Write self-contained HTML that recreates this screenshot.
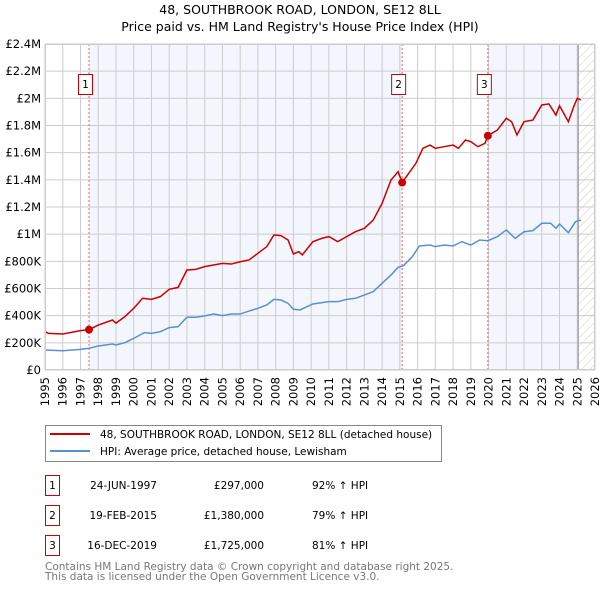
<!DOCTYPE html>
<html><head><meta charset="utf-8"><style>
body{margin:0;background:#fff;font-family:"Liberation Sans","DejaVu Sans",sans-serif;}
svg text{font-family:"DejaVu Sans","Liberation Sans",sans-serif;}
</style></head><body>
<svg id="c" width="600" height="590" xmlns="http://www.w3.org/2000/svg">
<defs><pattern id="hatch" width="6" height="6" patternUnits="userSpaceOnUse" patternTransform="rotate(45)"><line x1="0" y1="0" x2="0" y2="6" stroke="#ccc" stroke-width="1"/></pattern></defs>
<text x="300" y="14" text-anchor="middle" font-size="12.5">48, SOUTHBROOK ROAD, LONDON, SE12 8LL</text>
<text x="300" y="31" text-anchor="middle" font-size="12.5">Price paid vs. HM Land Registry's House Price Index (HPI)</text>
<g id="plot"></g>
<g>
<rect x="45.5" y="425.5" width="396" height="36" fill="#fff" stroke="#888"/>
<line x1="50" y1="434" x2="90" y2="434" stroke="#cc0000" stroke-width="2"/>
<text x="100" y="438" font-size="10.5">48, SOUTHBROOK ROAD, LONDON, SE12 8LL (detached house)</text>
<line x1="50" y1="451" x2="90" y2="451" stroke="#5b8fd4" stroke-width="2"/>
<text x="100" y="455" font-size="10.5">HPI: Average price, detached house, Lewisham</text>
</g>
<g font-size="10.5">
<rect x="45.5" y="475.5" width="14" height="20" fill="#fff" stroke="#cc0000"/><text x="52.5" y="489" text-anchor="middle">1</text>
<text x="157" y="489" text-anchor="end">24-JUN-1997</text><text x="264" y="489" text-anchor="end">£297,000</text><text x="312" y="489">92% ↑ HPI</text>
<rect x="45.5" y="505.5" width="14" height="20" fill="#fff" stroke="#cc0000"/><text x="52.5" y="519" text-anchor="middle">2</text>
<text x="157" y="519" text-anchor="end">19-FEB-2015</text><text x="264" y="519" text-anchor="end">£1,380,000</text><text x="312" y="519">79% ↑ HPI</text>
<rect x="45.5" y="535.5" width="14" height="20" fill="#fff" stroke="#cc0000"/><text x="52.5" y="549" text-anchor="middle">3</text>
<text x="157" y="549" text-anchor="end">16-DEC-2019</text><text x="264" y="549" text-anchor="end">£1,725,000</text><text x="312" y="549">81% ↑ HPI</text>
</g>
<text x="45" y="570" font-size="10.5" fill="#777">Contains HM Land Registry data © Crown copyright and database right 2025.</text>
<text x="45" y="580" font-size="10.5" fill="#777">This data is licensed under the Open Government Licence v3.0.</text>
</svg>
<script>
const redYears=[1995,1995.2,1996,1997,1997.48,1998,1998.8,1999,1999.5,2000,2000.5,2001,2001.5,2002,2002.5,2003,2003.5,2004,2004.5,2005,2005.5,2006,2006.5,2007,2007.5,2007.9,2008.3,2008.7,2009,2009.3,2009.5,2010.1,2010.6,2011,2011.5,2012,2012.5,2013,2013.5,2014,2014.5,2014.9,2015.13,2015.5,2015.9,2016.3,2016.7,2017,2017.5,2018,2018.3,2018.7,2019,2019.4,2019.8,2019.96,2020.5,2021,2021.3,2021.6,2022,2022.5,2023,2023.4,2023.8,2024,2024.5,2024.8,2025,2025.2];
const redValues=[282,270,265,290,297,331,368,345,393,454,528,520,540,594,608,736,741,761,773,785,780,797,810,859,908,994,989,957,854,871,847,945,969,982,945,982,1018,1043,1104,1227,1399,1460,1380,1448,1521,1632,1656,1632,1644,1656,1632,1693,1681,1644,1669,1725,1767,1853,1828,1730,1828,1840,1951,1959,1877,1945,1828,1939,2000,1988];
const hpiYears=[1995,1996,1997,1997.5,1998,1998.8,1999,1999.5,2000,2000.6,2001,2001.5,2002,2002.5,2003,2003.5,2004,2004.5,2005,2005.5,2006,2006.5,2007,2007.5,2007.9,2008.3,2008.7,2009,2009.37,2010.1,2011,2011.5,2012,2012.5,2013,2013.5,2014,2014.5,2014.9,2015.2,2015.7,2016.1,2016.7,2017,2017.5,2018,2018.5,2019,2019.5,2019.96,2020.5,2021,2021.5,2022,2022.5,2023,2023.5,2023.8,2024,2024.5,2024.9,2025.2];
const hpiValues=[147,142,152,160,177,191,184,201,233,275,270,282,312,319,388,388,398,412,400,412,412,434,454,479,520,515,491,447,442,486,503,503,520,528,552,577,638,699,756,768,834,913,920,908,920,913,945,920,957,952,982,1031,969,1018,1026,1080,1080,1043,1075,1011,1092,1104];
const saleYears=[1997.48,2015.13,2019.96];
const saleValues=[297,1380,1725];
const saleLabels=["1","2","3"];
const yTicks=[0,200,400,600,800,1000,1200,1400,1600,1800,2000,2200,2400];
const yTickLabels=["£0","£200K","£400K","£600K","£800K","£1M","£1.2M","£1.4M","£1.6M","£1.8M","£2M","£2.2M","£2.4M"];
const xMin=1995,xMax=2026,X0=45,X1=595,Y0=370,Y1=44;
const sx=v=>X0+(v-xMin)/(xMax-xMin)*(X1-X0);
const sy=v=>Y0-v/2400*(Y0-Y1);
const NS="http://www.w3.org/2000/svg",g=document.getElementById('plot');
function mk(t,a){const e=document.createElementNS(NS,t);for(const k in a)e.setAttribute(k,a[k]);g.appendChild(e);return e;}
let e;
e=mk('rect',{x:sx(saleYears[0]),y:Y1,width:sx(saleYears[1])-sx(saleYears[0]),height:Y0-Y1,fill:'#f3f6fd'});


e=mk('rect',{x:sx(saleYears[2]),y:Y1,width:sx(2025.05)-sx(saleYears[2]),height:Y0-Y1,fill:'#f3f6fd'});


e=mk('rect',{x:sx(2025.05),y:Y1,width:X1-sx(2025.05),height:Y0-Y1,fill:'url(#hatch)'});


for(let y=xMin;y<=xMax;y++){
 e=mk('line',{x1:sx(y),x2:sx(y),y1:Y1,y2:Y0,stroke:'#ccc','stroke-width':1});
 
 
 e=mk('text',{transform:`translate(${sx(y)+4},377) rotate(-90)`,'text-anchor':'end','font-size':11.5});
 e.textContent=y;
 
 
}
yTicks.forEach((v,i)=>{
 e=mk('line',{x1:X0,x2:X1,y1:sy(v),y2:sy(v),stroke:'#ccc','stroke-width':1});
 
 
 e=mk('text',{x:41,y:sy(v)+4,'text-anchor':'end','font-size':11.5});
 e.textContent=yTickLabels[i];
 
 
});
e=mk('line',{x1:sx(2025.05),x2:sx(2025.05),y1:Y1,y2:Y0,stroke:'#888','stroke-width':1});


saleYears.forEach((yr,i)=>{
 e=mk('line',{x1:sx(yr),x2:sx(yr),y1:Y1,y2:Y0,stroke:'#e66','stroke-width':1,'stroke-dasharray':'2,2'});
 
 
 e=mk('rect',{x:sx(yr)-10.5,y:74.5,width:14,height:20,fill:'#fff',stroke:'#cc0000'});
 
 
 e=mk('text',{x:sx(yr)-3.5,y:88,'text-anchor':'middle','font-size':10.5});
 e.textContent=saleLabels[i];
 
 
});
e=mk('polyline',{points:hpiYears.map((y,i)=>sx(y)+','+sy(hpiValues[i])).join(' '),fill:'none',stroke:'#5b8fd4','stroke-width':1.5});


e=mk('polyline',{points:redYears.map((y,i)=>sx(y)+','+sy(redValues[i])).join(' '),fill:'none',stroke:'#cc0000','stroke-width':1.5});


saleYears.forEach((yr,i)=>{
 e=mk('circle',{cx:sx(yr),cy:sy(saleValues[i]),r:4,fill:'#cc0000'});
 
 
});
e=mk('rect',{x:X0+0.5,y:Y1+0.5,width:X1-X0-1,height:Y0-Y1-1,fill:'none',stroke:'#ccc'});


</script>
</body></html>
